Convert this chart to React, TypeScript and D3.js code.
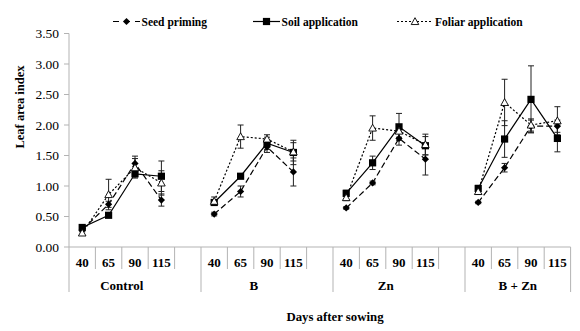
import React from "react";
import * as d3 from "d3";

const groups = ["Control", "B", "Zn", "B + Zn"];
const days = ["40", "65", "90", "115"];
const yTicks = [0, 0.5, 1, 1.5, 2, 2.5, 3, 3.5];

// values per group: [40, 65, 90, 115]
const seedPriming = [
  [0.28, 0.70, 1.37, 0.77],
  [0.54, 0.91, 1.64, 1.23],
  [0.64, 1.05, 1.78, 1.44],
  [0.73, 1.30, 1.98, 1.98],
];
const seedErr = [
  [0.03, 0.05, 0.12, 0.1],
  [0.03, 0.09, 0.09, 0.23],
  [0.02, 0.03, 0.11, 0.26],
  [0.02, 0.07, 0.1, 0.1],
];
const soilApplication = [
  [0.32, 0.52, 1.20, 1.16],
  [0.73, 1.16, 1.70, 1.55],
  [0.88, 1.38, 1.97, 1.66],
  [0.96, 1.77, 2.42, 1.78],
];
const soilErr = [
  [0.03, 0.03, 0.07, 0.25],
  [0.04, 0.03, 0.1, 0.2],
  [0.05, 0.11, 0.22, 0.15],
  [0.05, 0.3, 0.55, 0.22],
];
const foliarApplication = [
  [0.23, 0.86, 1.30, 1.05],
  [0.75, 1.81, 1.77, 1.56],
  [0.81, 1.95, 1.90, 1.68],
  [0.91, 2.37, 2.00, 2.07],
];
const foliarErr = [
  [0.03, 0.25, 0.15, 0.2],
  [0.07, 0.19, 0.07, 0.15],
  [0.05, 0.2, 0.1, 0.17],
  [0.05, 0.38, 0.1, 0.23],
];

const W = 580;
const H = 331;
const left = 69;
const right = 570.6;
const top = 33.5;
const bottom = 247;
const FONT = "'Liberation Serif', 'Times New Roman', serif";
const AXIS = "#b3b3b3";

// slot keys (each group followed by an empty slot except the last)
const slots: string[] = [];
groups.forEach((g, gi) => {
  days.forEach((d) => slots.push(`${g}|${d}`));
  if (gi < groups.length - 1) slots.push(`${g}|gap`);
});

const x = d3.scaleBand<string>().domain(slots).range([left, right]).padding(0);
const y = d3.scaleLinear().domain([0, 3.5]).range([bottom, top]);
const cx = (g: string, d: string) => (x(`${g}|${d}`) as number) + x.bandwidth() / 2;

type Series = {
  name: string;
  vals: number[][];
  errs: number[][];
  dash: string;
  marker: "diamond" | "square" | "triangle";
};

const series: Series[] = [
  { name: "Seed priming", vals: seedPriming, errs: seedErr, dash: "6,3", marker: "diamond" },
  { name: "Soil application", vals: soilApplication, errs: soilErr, dash: "", marker: "square" },
  { name: "Foliar application", vals: foliarApplication, errs: foliarErr, dash: "2,2", marker: "triangle" },
];

function Marker({ kind, px, py }: { kind: string; px: number; py: number }) {
  if (kind === "diamond") {
    const s = 3.6;
    return (
      <path
        d={`M${px},${py - s}L${px + s},${py}L${px},${py + s}L${px - s},${py}Z`}
        fill="#000"
      />
    );
  }
  if (kind === "square") {
    const s = 3.6;
    return <rect x={px - s} y={py - s} width={2 * s} height={2 * s} fill="#000" />;
  }
  const s = 3.8;
  return (
    <path
      d={`M${px},${py - s}L${px + s},${py + s * 0.8}L${px - s},${py + s * 0.8}Z`}
      fill="#fff"
      stroke="#000"
      strokeWidth={0.9}
    />
  );
}

const line = d3
  .line<[number, number]>()
  .x((d) => d[0])
  .y((d) => d[1]);

export default function App() {
  const legendItems = [
    { s: series[0], x0: 113, x1: 140, tx: 141.5 },
    { s: series[1], x0: 253, x1: 280, tx: 281.5 },
    { s: series[2], x0: 397, x1: 433, tx: 435 },
  ];
  return (
    <svg
      width={W}
      height={H}
      style={{ position: "absolute", left: 0, top: 0, background: "#fff" }}
      fontFamily={FONT}
    >
      <rect x={0} y={0} width={W} height={H} fill="#fff" />
      {/* y axis */}
      <line x1={left} x2={left} y1={top} y2={bottom} stroke={AXIS} />
      {yTicks.map((t) => (
        <g key={t}>
          <line x1={left - 5} x2={left} y1={y(t)} y2={y(t)} stroke={AXIS} />
          <text x={59} y={y(t) + 4.5} textAnchor="end" fontSize={13.5}>
            {t.toFixed(2)}
          </text>
        </g>
      ))}
      {/* x axis */}
      <line x1={left} x2={right} y1={bottom} y2={bottom} stroke={AXIS} />
      {slots.map((k, i) => {
        const x0 = x(k) as number;
        const isGroupStart = i === 0 || slots[i - 1].endsWith("|gap");
        return (
          <line
            key={k}
            x1={x0}
            x2={x0}
            y1={bottom}
            y2={isGroupStart ? 292 : 269}
            stroke={AXIS}
          />
        );
      })}
      <line x1={right} x2={right} y1={bottom} y2={292} stroke={AXIS} />
      {groups.map((g) => (
        <g key={g}>
          {days.map((d) => (
            <text
              key={d}
              x={cx(g, d)}
              y={267}
              textAnchor="middle"
              fontSize={13}
              fontWeight="bold"
            >
              {d}
            </text>
          ))}
          <text
            x={(cx(g, "40") + cx(g, "115")) / 2}
            y={289.5}
            textAnchor="middle"
            fontSize={13}
            fontWeight="bold"
          >
            {g}
          </text>
        </g>
      ))}
      <text x={335} y={320.5} textAnchor="middle" fontSize={12.8} fontWeight="bold">
        Days after sowing
      </text>
      <text
        transform={`translate(24,107) rotate(-90)`}
        textAnchor="middle"
        fontSize={12.5}
        fontWeight="bold"
      >
        Leaf area index
      </text>
      {/* series */}
      {series.map((s) =>
        groups.map((g, gi) => {
          const pts: [number, number][] = days.map((d, di) => [cx(g, d), y(s.vals[gi][di])]);
          return (
            <g key={s.name + g}>
              <path
                d={line(pts) as string}
                fill="none"
                stroke="#000"
                strokeWidth={1.2}
                strokeDasharray={s.dash || undefined}
              />
              {days.map((d, di) => {
                const v = s.vals[gi][di];
                const e = s.errs[gi][di];
                const px = cx(g, d);
                return (
                  <g key={d}>
                    <line x1={px} x2={px} y1={y(v - e)} y2={y(v + e)} stroke="#222" strokeWidth={1} />
                    <line x1={px - 3} x2={px + 3} y1={y(v - e)} y2={y(v - e)} stroke="#222" strokeWidth={1} />
                    <line x1={px - 3} x2={px + 3} y1={y(v + e)} y2={y(v + e)} stroke="#222" strokeWidth={1} />
                  </g>
                );
              })}
            </g>
          );
        })
      )}
      {series.map((s) =>
        groups.map((g, gi) =>
          days.map((d, di) => (
            <Marker key={s.name + g + d} kind={s.marker} px={cx(g, d)} py={y(s.vals[gi][di])} />
          ))
        )
      )}
      {/* legend */}
      {legendItems.map(({ s, x0, x1, tx }) => (
        <g key={s.name}>
          <line
            x1={x0}
            x2={x1}
            y1={21.5}
            y2={21.5}
            stroke="#000"
            strokeWidth={1.2}
            strokeDasharray={s.dash ? (s.marker === "diamond" ? "6,5" : "2,2") : undefined}
          />
          <Marker kind={s.marker} px={(x0 + x1) / 2} py={21.5} />
          <text x={tx} y={25.5} fontSize={11.5} fontWeight="bold">
            {s.name}
          </text>
        </g>
      ))}
    </svg>
  );
}
